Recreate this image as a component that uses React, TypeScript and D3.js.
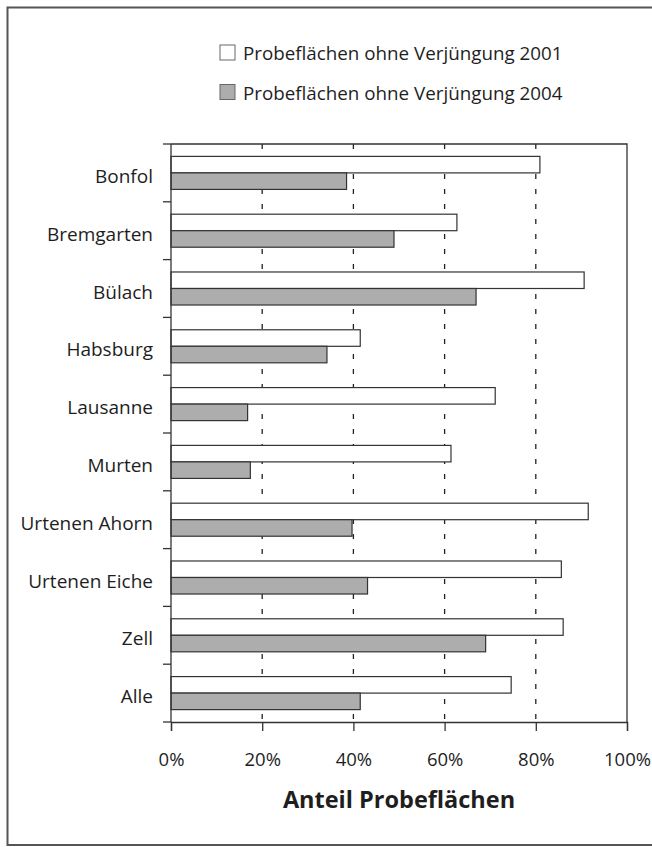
import React, { useEffect, useRef } from "react";
import * as d3 from "d3";

const sites = [
  "Bonfol",
  "Bremgarten",
  "Bülach",
  "Habsburg",
  "Lausanne",
  "Murten",
  "Urtenen Ahorn",
  "Urtenen Eiche",
  "Zell",
  "Alle",
];
const share2001 = [80.9, 62.7, 90.6, 41.5, 71.1, 61.4, 91.5, 85.6, 86.0, 74.6];
const share2004 = [38.5, 48.9, 66.9, 34.2, 16.8, 17.4, 39.7, 43.1, 69.0, 41.5];
const seriesNames = [
  "Probeflächen ohne Verjüngung 2001",
  "Probeflächen ohne Verjüngung 2004",
];
const xTicks = [0, 20, 40, 60, 80, 100];
const axisTitle = "Anteil Probeflächen";

const FONT = "'Open Sans', 'Noto Sans', sans-serif";
const INK = "#333";
const GREY = "#adadad";

export default function App() {
  const ref = useRef<SVGSVGElement>(null);

  useEffect(() => {
    const width = 652;
    const height = 847;
    const margin = { top: 144, left: 171, right: 25, bottom: 125 };

    const svg = d3.select(ref.current);
    svg.selectAll("*").remove();
    svg.attr("width", width).attr("height", height);

    // outer frame (open to the right, like the scan)
    svg
      .append("path")
      .attr("d", `M${width + 5},7.5 H7.5 V845 H${width + 5}`)
      .attr("fill", "none")
      .attr("stroke", "#555")
      .attr("stroke-width", 2);

    const x = d3
      .scaleLinear()
      .domain([0, 100])
      .range([margin.left, width - margin.right]);

    const y = d3
      .scaleBand()
      .domain(sites)
      .range([margin.top, height - margin.bottom])
      .paddingInner(0)
      .paddingOuter(0);

    const inner = d3
      .scaleBand()
      .domain(["2001", "2004"])
      .range([0, y.bandwidth()])
      .paddingOuter(0.75)
      .paddingInner(0);

    const top = margin.top;
    const bottom = height - margin.bottom;
    const left = margin.left;
    const right = width - margin.right;

    // dashed grid
    svg
      .append("g")
      .selectAll("line")
      .data(xTicks.filter((t) => t > 0 && t < 100))
      .join("line")
      .attr("x1", (d) => x(d))
      .attr("x2", (d) => x(d))
      .attr("y1", top)
      .attr("y2", bottom)
      .attr("stroke", "#222")
      .attr("stroke-width", 1.3)
      .attr("stroke-dasharray", "5,10");

    // bars
    const rows = sites.map((s, i) => ({ site: s, a: share2001[i], b: share2004[i] }));
    const g = svg.append("g");
    g.selectAll("rect.a")
      .data(rows)
      .join("rect")
      .attr("class", "a")
      .attr("x", x(0))
      .attr("y", (d) => y(d.site)! + inner("2001")!)
      .attr("width", (d) => x(d.a) - x(0))
      .attr("height", inner.bandwidth())
      .attr("fill", "#fff")
      .attr("stroke", INK)
      .attr("stroke-width", 1.2);
    g.selectAll("rect.b")
      .data(rows)
      .join("rect")
      .attr("class", "b")
      .attr("x", x(0))
      .attr("y", (d) => y(d.site)! + inner("2004")!)
      .attr("width", (d) => x(d.b) - x(0))
      .attr("height", inner.bandwidth())
      .attr("fill", GREY)
      .attr("stroke", INK)
      .attr("stroke-width", 1.2);

    // plot frame top + right
    svg
      .append("path")
      .attr("d", `M${left},${top} H${right} V${bottom}`)
      .attr("fill", "none")
      .attr("stroke", INK)
      .attr("stroke-width", 1.3);

    // y axis: ticks at band edges
    const yAxis = svg.append("g");
    yAxis
      .append("line")
      .attr("x1", left)
      .attr("x2", left)
      .attr("y1", top)
      .attr("y2", bottom)
      .attr("stroke", INK)
      .attr("stroke-width", 1.3);
    const edges = sites.map((s) => y(s)!).concat([bottom]);
    yAxis
      .selectAll("line.tk")
      .data(edges)
      .join("line")
      .attr("class", "tk")
      .attr("x1", left - 8)
      .attr("x2", left)
      .attr("y1", (d) => d)
      .attr("y2", (d) => d)
      .attr("stroke", INK)
      .attr("stroke-width", 1.3);
    yAxis
      .selectAll("text")
      .data(sites)
      .join("text")
      .attr("x", left - 18)
      .attr("y", (d) => y(d)! + y.bandwidth() / 2 + 10)
      .attr("text-anchor", "end")
      .attr("font-family", FONT)
      .attr("font-size", 19)
      .attr("fill", "#1e1e1e")
      .text((d) => d);

    // x axis
    const xAxis = svg
      .append("g")
      .attr("transform", `translate(0,${bottom})`)
      .call(
        d3
          .axisBottom(x)
          .tickValues(xTicks)
          .tickSize(9)
          .tickPadding(22)
          .tickFormat((d) => `${d}%`)
      );
    xAxis.select(".domain").attr("stroke", INK).attr("stroke-width", 1.3);
    xAxis.selectAll(".tick line").attr("stroke", INK).attr("stroke-width", 1.3);
    xAxis
      .selectAll(".tick text")
      .attr("font-family", FONT)
      .attr("font-size", 18.5)
      .attr("fill", "#1e1e1e");

    svg
      .append("text")
      .attr("x", (left + right) / 2)
      .attr("y", 808)
      .attr("text-anchor", "middle")
      .attr("font-family", FONT)
      .attr("font-weight", "bold")
      .attr("font-size", 23.5)
      .attr("fill", "#1e1e1e")
      .text(axisTitle);

    // legend
    const legend = svg
      .append("g")
      .selectAll("g")
      .data(seriesNames)
      .join("g")
      .attr("transform", (d, i) => `translate(220,${45 + i * 39.5})`);
    legend
      .append("rect")
      .attr("width", 15)
      .attr("height", 15)
      .attr("fill", (d, i) => (i === 0 ? "#fff" : GREY))
      .attr("stroke", "#666")
      .attr("stroke-width", 1);
    legend
      .append("text")
      .attr("x", 23)
      .attr("y", 15)
      .attr("font-family", FONT)
      .attr("font-size", 18.8)
      .attr("fill", "#1e1e1e")
      .text((d) => d);
  }, []);

  return (
    <svg
      ref={ref}
      style={{ position: "absolute", left: 0, top: 0, background: "#fff" }}
    />
  );
}
